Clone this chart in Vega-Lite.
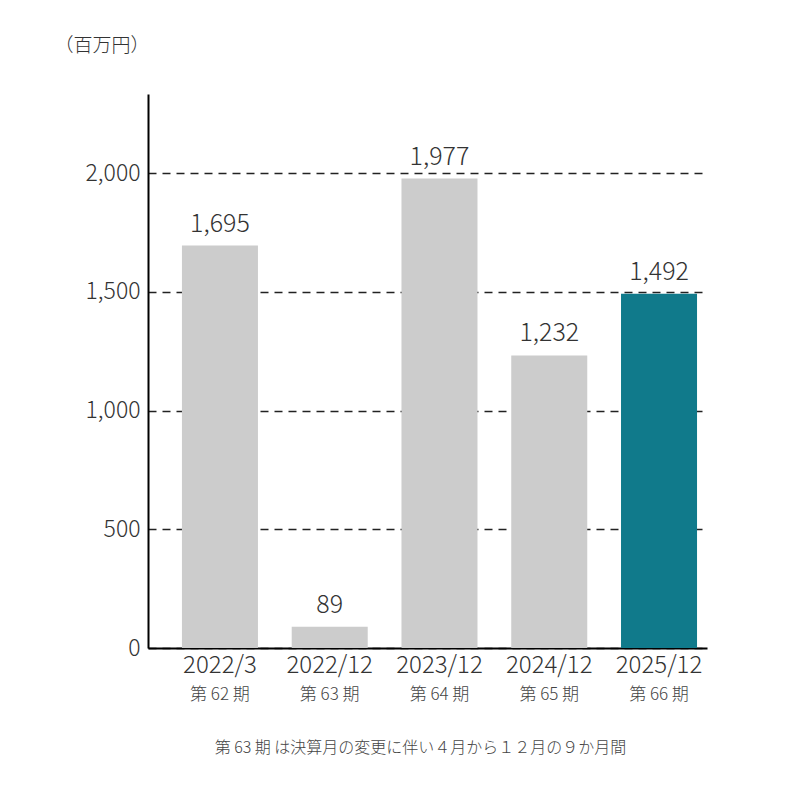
{
  "$schema": "https://vega.github.io/schema/vega-lite/v6.json",
  "autosize": "none",
  "width": 559,
  "height": 554,
  "padding": {"left": 148, "top": 94, "right": 93, "bottom": 152},
  "background": "white",
  "data": {
    "values": [
      {"category": "2022/3|第 62 期", "value": 1695, "current": false},
      {"category": "2022/12|第 63 期", "value": 89, "current": false},
      {"category": "2023/12|第 64 期", "value": 1977, "current": false},
      {"category": "2024/12|第 65 期", "value": 1232, "current": false},
      {"category": "2025/12|第 66 期", "value": 1492, "current": true}
    ]
  },
  "layer": [
    {
      "mark": {"type": "bar"},
      "encoding": {
        "x": {
          "field": "category",
          "type": "nominal",
          "sort": null,
          "scale": {"paddingInner": 0.3075, "paddingOuter": 0.2, "align": 0.773},
          "axis": {
            "orient": "bottom",
            "title": null,
            "labelExpr": "split(datum.value, '|')[0]",
            "labelAngle": 0,
            "labelFontSize": 24,
            "labelColor": "#333333",
            "labelPadding": 5,
            "ticks": false,
            "domainColor": "#000000",
            "domainWidth": 2
          }
        },
        "y": {
          "field": "value",
          "type": "quantitative",
          "scale": {"domain": [0, 2333], "nice": false, "zero": true},
          "axis": {
            "title": "（百万円）",
            "titleAngle": 0,
            "titleX": -94,
            "titleY": -49,
            "titleAlign": "left",
            "titleBaseline": "middle",
            "titleFontSize": 19,
            "titleFontWeight": 300,
            "titleColor": "#333333",
            "values": [0, 500, 1000, 1500, 2000],
            "format": ",.0f",
            "labelFontSize": 23,
            "labelColor": "#333333",
            "labelPadding": 8,
            "ticks": false,
            "domainColor": "#000000",
            "domainWidth": 2,
            "grid": true,
            "gridColor": "#222222",
            "gridWidth": 1.5,
            "gridDash": [8, 6]
          }
        },
        "color": {
          "field": "current",
          "type": "nominal",
          "scale": {"domain": [false, true], "range": ["#cccccc", "#107a8b"]},
          "legend": null
        }
      }
    },
    {
      "mark": {"type": "text", "dy": -9, "baseline": "bottom", "fontSize": 25, "color": "#333333"},
      "encoding": {
        "x": {
          "field": "category",
          "type": "nominal",
          "sort": null,
          "axis": {
            "orient": "bottom",
            "title": "第 63 期 は決算月の変更に伴い４月から１２月の９か月間",
            "titleFontSize": 16,
            "titleFontWeight": 300,
            "titleColor": "#444444",
            "titleX": 272,
            "titleY": 99,
            "titleBaseline": "middle",
            "labelExpr": "split(datum.value, '|')[1]",
            "labelAngle": 0,
            "labelFontSize": 17,
            "labelColor": "#444444",
            "labelPadding": 38,
            "ticks": false,
            "domain": false
          }
        },
        "y": {"field": "value", "type": "quantitative"},
        "text": {"field": "value", "type": "quantitative", "format": ","}
      }
    }
  ],
  "resolve": {"axis": {"x": "independent"}},
  "config": {
    "font": "Noto Sans CJK JP",
    "axis": {"labelFont": "Noto Sans CJK JP", "labelFontWeight": 300, "titleFont": "Noto Sans CJK JP"},
    "text": {"fontWeight": 300},
    "view": {"stroke": null}
  }
}
